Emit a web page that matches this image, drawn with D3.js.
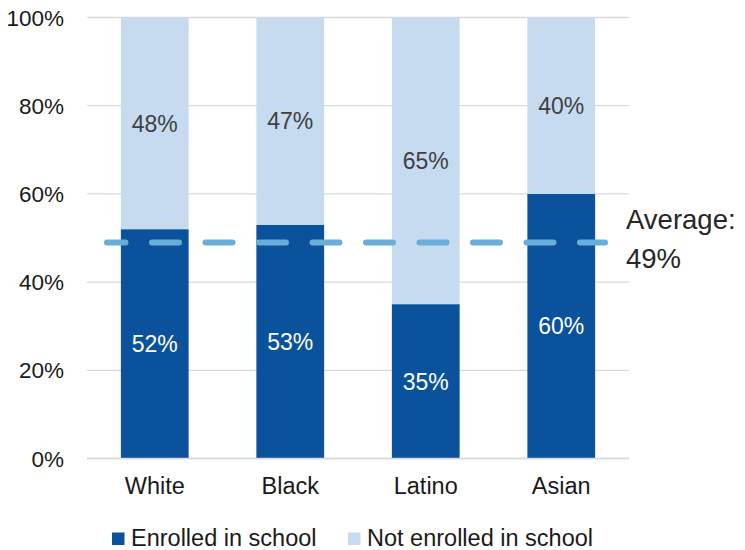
<!DOCTYPE html>
<html>
<head>
<meta charset="utf-8">
<script src="https://cdn.jsdelivr.net/npm/d3@7"></script>
<style>
  body { margin: 0; background: #fff; }
  svg { font-family: "Liberation Sans", Arial, sans-serif; }
</style>
</head>
<body>
<svg id="chart" width="745" height="550"></svg>
<script>
// data
const categories = ["White", "Black", "Latino", "Asian"];
const enrolled = [52, 53, 35, 60];
const notEnrolled = [48, 47, 65, 40];
const average = 49;
const yTicks = [0, 20, 40, 60, 80, 100];
const seriesNames = ["Enrolled in school", "Not enrolled in school"];

const colors = { enrolled: "#0b529d", notEnrolled: "#c6dbef", avg: "#69aed8" };

const svg = d3.select("#chart");

const x = d3.scaleBand()
    .domain(categories)
    .range([87, 629])
    .paddingInner(0.5)
    .paddingOuter(0.25);

const y = d3.scaleLinear()
    .domain([0, 100])
    .range([458.5, 17.5]);

// gridlines
svg.append("g")
    .selectAll("line")
    .data(yTicks)
    .join("line")
    .attr("x1", 87)
    .attr("x2", 629)
    .attr("y1", d => y(d))
    .attr("y2", d => y(d))
    .attr("stroke", "#d9d9d9")
    .attr("stroke-width", 1.3);

// y tick labels
svg.append("g")
    .selectAll("text")
    .data(yTicks)
    .join("text")
    .attr("x", 64)
    .attr("y", d => y(d))
    .attr("dy", "0.36em")
    .attr("text-anchor", "end")
    .attr("font-size", 22.5)
    .attr("fill", "#1a1a1a")
    .text(d => d + "%");

// stacked bars
const rows = categories.map((c, i) => ({ cat: c, a: enrolled[i], b: notEnrolled[i] }));

const bars = svg.append("g");
bars.selectAll("rect.enr")
    .data(rows)
    .join("rect")
    .attr("class", "enr")
    .attr("x", d => x(d.cat))
    .attr("width", x.bandwidth())
    .attr("y", d => y(d.a))
    .attr("height", d => y(0) - y(d.a))
    .attr("fill", colors.enrolled);

bars.selectAll("rect.not")
    .data(rows)
    .join("rect")
    .attr("class", "not")
    .attr("x", d => x(d.cat))
    .attr("width", x.bandwidth())
    .attr("y", d => y(d.a + d.b))
    .attr("height", d => y(d.a) - y(d.a + d.b))
    .attr("fill", colors.notEnrolled);

// redraw 0% baseline over bars
svg.append("line")
    .attr("x1", 87).attr("x2", 629)
    .attr("y1", y(0)).attr("y2", y(0))
    .attr("stroke", "#d9d9d9")
    .attr("stroke-width", 1.3);

// value labels
const labels = svg.append("g")
    .attr("text-anchor", "middle")
    .attr("font-size", 23);

labels.selectAll("text.enr")
    .data(rows)
    .join("text")
    .attr("class", "enr")
    .attr("x", d => x(d.cat) + x.bandwidth() / 2)
    .attr("y", d => y(d.a / 2))
    .attr("dy", "0.36em")
    .attr("fill", "#ffffff")
    .text(d => d.a + "%");

labels.selectAll("text.not")
    .data(rows)
    .join("text")
    .attr("class", "not")
    .attr("x", d => x(d.cat) + x.bandwidth() / 2)
    .attr("y", d => y(d.a + d.b / 2))
    .attr("dy", "0.36em")
    .attr("fill", "#404040")
    .text(d => d.b + "%");

// average line
svg.append("line")
    .attr("x1", x.range()[0] + 20)
    .attr("x2", x.range()[1] - 24)
    .attr("y1", y(average))
    .attr("y2", y(average))
    .attr("stroke", colors.avg)
    .attr("stroke-width", 6)
    .attr("stroke-linecap", "round")
    .attr("stroke-dasharray", "27 26.5")
    .attr("stroke-dashoffset", 8.5);

const avgText = svg.append("text")
    .attr("x", 625)
    .attr("font-size", 27.5)
    .attr("fill", "#262626");
avgText.append("tspan").attr("x", 626).attr("y", 229).text("Average:");
avgText.append("tspan").attr("x", 626).attr("y", 268).text(average + "%");

// x axis labels
svg.append("g")
    .selectAll("text")
    .data(categories)
    .join("text")
    .attr("x", d => x(d) + x.bandwidth() / 2)
    .attr("y", 494)
    .attr("text-anchor", "middle")
    .attr("font-size", 23.5)
    .attr("fill", "#1a1a1a")
    .text(d => d);

// legend
const legendX = [112, 348];
const legendColors = [colors.enrolled, colors.notEnrolled];
const legend = svg.append("g")
    .selectAll("g")
    .data(seriesNames)
    .join("g")
    .attr("transform", (d, i) => `translate(${legendX[i]},532.5)`);

legend.append("rect")
    .attr("width", 12.5)
    .attr("height", 12.5)
    .attr("fill", (d, i) => legendColors[i]);

legend.append("text")
    .attr("x", 19)
    .attr("y", 13.5)
    .attr("font-size", 23.5)
    .attr("fill", "#1a1a1a")
    .text(d => d);
</script>
</body>
</html>
